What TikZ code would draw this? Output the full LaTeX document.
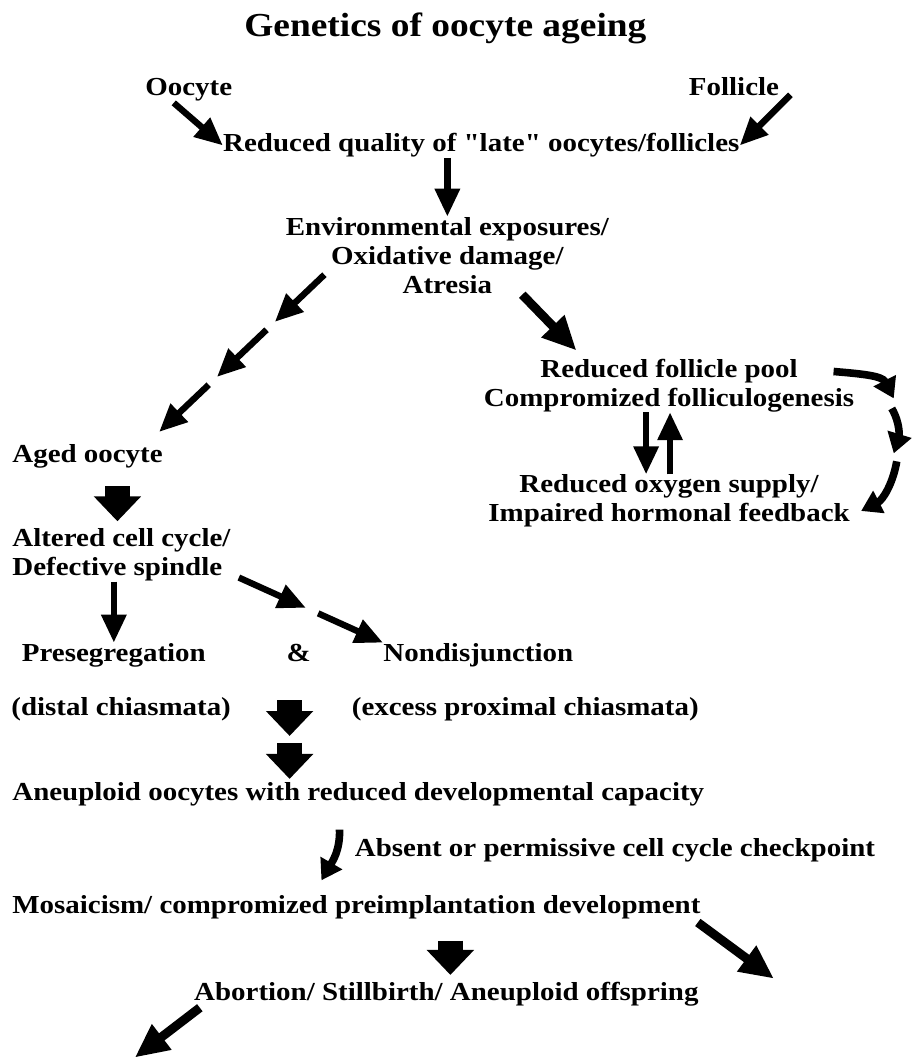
\documentclass[tikz,border=0pt]{standalone}
\usepackage{fontspec}
\setmainfont{Liberation Serif}[FakeStretch = 1.115, Ligatures = TeXOff]
\usetikzlibrary{arrows.meta, calc, positioning}

\tikzset{
	ageing/.style = {
		x = 0.5pt,
		y = 0.5pt,
		arrow/.style = {
			draw,
			line width = 3.2pt,
			-{Triangle[length = 14pt, width = 12pt]}
		},
		heavy-arrow/.style = {
			draw,
			line width = 4.5pt,
			-{Triangle[length = 17pt, width = 15pt]}
		},
		block-arrow/.style = {
			draw,
			line width = 12.5pt,
			-{Triangle[length = 12.5pt, width = 23pt]}
		},
		hook-arrow/.style = {
			draw,
			line width = 3.8pt,
			-{Triangle[length = 10pt, width = 12pt]}
		}
	},
	txt/.style = {
		inner sep = 0pt,
		font = \fontsize{13pt}{14.5pt}\selectfont\bfseries
	},
	headline/.style = {
		inner sep = 0pt,
		font = \fontsize{16.8pt}{20pt}\selectfont\bfseries
	}
}

\begin{document}
\begin{tikzpicture}[ageing]
	\path[fill = white] (0, 4) rectangle (905, -1058);

	\node[headline, anchor = base] (title) at (446, -33) {Genetics of oocyte ageing};

	\node[txt, anchor = base] (oocyte) at (189, -92) {Oocyte};
	\node[txt, anchor = base] (follicle) at (735, -92) {Follicle};
	\node[txt, anchor = base] (quality) at (482, -148) {Reduced quality of "late" oocytes/follicles};

	\node[txt, align = center, anchor = north] (env) at (448, -213) {Environmental exposures/\\Oxidative damage/\\Atresia};
	\node[txt, align = center, anchor = north] (pool) at (670, -355) {Reduced follicle pool\\Compromized folliculogenesis};
	\node[txt, align = center, anchor = north] (oxygen) at (670, -471) {Reduced oxygen supply/\\Impaired hormonal feedback};

	\node[txt, anchor = base west] (aged) at (12, -459) {Aged oocyte};
	\node[txt, align = left, anchor = north west] (altered) at (12, -525) {Altered cell cycle/\\Defective spindle};

	\node[txt, anchor = base] (preseg) at (114, -658) {Presegregation};
	\node[txt, anchor = base] (amp) at (299, -658) {\&};
	\node[txt, anchor = base] (nondis) at (479, -658) {Nondisjunction};
	\node[txt, anchor = base west] (distal) at (11, -713) {(distal chiasmata)};
	\node[txt, anchor = base west] (excess) at (352, -713) {(excess proximal chiasmata)};

	\node[txt, anchor = base west] (aneuploid) at (12, -798) {Aneuploid oocytes with reduced developmental capacity};
	\node[txt, anchor = base west] (absent) at (355, -854) {Absent or permissive cell cycle checkpoint};
	\node[txt, anchor = base west] (mosaic) at (12, -911) {Mosaicism/ compromized preimplantation development};
	\node[txt, anchor = base] (abortion) at (447, -998) {Abortion/ Stillbirth/ Aneuploid offspring};

	\coordinate (envL) at ([shift = {(39, 19)}]env.south west);
	\coordinate (agedR) at ([shift = {(-4, 12)}]aged.north east);
	\coordinate (altR) at ([shift = {(8, 4)}]altered.south east);
	\coordinate (outright) at (775, -976);
	\coordinate (outleft) at (135, -1055);

	\begin{scope}[every path/.style = arrow]
		\path ([shift = {(-15, -1)}]oocyte.south) to (quality.west);
		\path ([shift = {(11, 1)}]follicle.base east) to (quality.east);

		\path (quality.south -| env.north) to (env.north);

		\path (envL) to ($(envL)!0.3!(agedR)$);
		\path ($(envL)!0.35!(agedR)$) to ($(envL)!0.65!(agedR)$);
		\path ($(envL)!0.7!(agedR)$) to (agedR);

		\path ([shift = {(-23, 0)}]pool.south) to ([shift = {(-23, 0)}]oxygen.north);
		\path ([shift = {(1, 0)}]oxygen.north) to ([shift = {(1, 0)}]pool.south);

		\path (altered.south -| preseg.north) to (preseg.north);
		\path (altR) to ($(altR)!0.465!(nondis.north west)$);
		\path ($(altR)!0.55!(nondis.north west)$) to (nondis.north west);
	\end{scope}

	\path[heavy-arrow] ([shift = {(75, -1)}]env.south) to ([shift = {(93, 8)}]pool.north west);
	\path[heavy-arrow] ([shift = {(-3, -15)}]mosaic.east) to (outright);
	\path[heavy-arrow] ([shift = {(6, -1)}]abortion.south west) to (outleft);

	\path[hook-arrow] ([shift = {(-21, -13)}]pool.north east) to[out = -5, in = 117] (895, -395);
	\path[hook-arrow] (893, -405) to[out = -60, in = 73] (895, -450);
	\path[hook-arrow] (898, -458) to[out = -100, in = 27] ([shift = {(11, -10)}]oxygen.east);
	\path[hook-arrow] ([shift = {(-15, 21)}]absent.west) to[out = -88, in = 60] ([shift = {(-35, 15)}]mosaic.north);

	\path[block-arrow] ($(aged.south -| altered.north) + (-4, -18)$) to ([shift = {(-4, 7)}]altered.north);
	\path[block-arrow] ([shift = {(-9, -39)}]amp.base) to ([shift = {(-9, -75)}]amp.base);
	\path[block-arrow] ([shift = {(-9, -82)}]amp.base) to ([shift = {(-9, -118)}]amp.base);
	\path[block-arrow] ($(mosaic.south -| abortion.north) + (4, -21)$) to ([shift = {(4, 7)}]abortion.north);
\end{tikzpicture}
\end{document}
